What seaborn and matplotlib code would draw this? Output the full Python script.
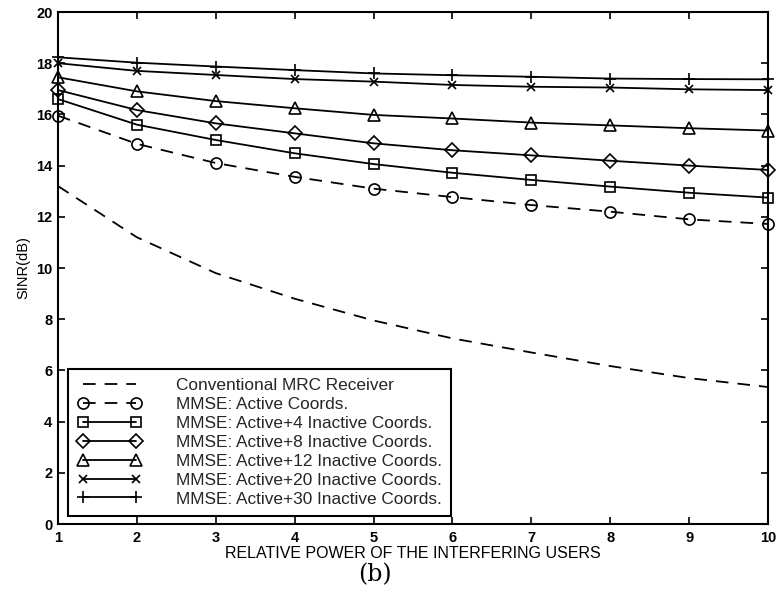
import matplotlib
matplotlib.use("Agg")
import matplotlib.pyplot as plt
import seaborn as sns
import pandas as pd
from matplotlib.lines import Line2D

x = [1, 2, 3, 4, 5, 6, 7, 8, 9, 10]
mrc = [13.2, 11.2, 9.8, 8.8, 7.95, 7.25, 6.7, 6.17, 5.7, 5.35]
active = [15.95, 14.85, 14.1, 13.56, 13.1, 12.77, 12.46, 12.2, 11.9, 11.72]
act4 = [16.6, 15.6, 15.0, 14.48, 14.06, 13.72, 13.44, 13.18, 12.94, 12.75]
act8 = [16.95, 16.17, 15.65, 15.26, 14.87, 14.6, 14.4, 14.19, 14.0, 13.83]
act12 = [17.45, 16.9, 16.52, 16.24, 15.98, 15.84, 15.68, 15.57, 15.46, 15.37]
act20 = [18.0, 17.7, 17.54, 17.38, 17.28, 17.15, 17.08, 17.05, 16.98, 16.95]
act30 = [18.23, 18.02, 17.87, 17.73, 17.6, 17.53, 17.47, 17.4, 17.38, 17.37]

labels = ["Conventional MRC Receiver", "MMSE: Active Coords.",
          "MMSE: Active+4 Inactive Coords.", "MMSE: Active+8 Inactive Coords.",
          "MMSE: Active+12 Inactive Coords.", "MMSE: Active+20 Inactive Coords.",
          "MMSE: Active+30 Inactive Coords."]
xticks = [1, 2, 3, 4, 5, 6, 7, 8, 9, 10]
yticks = [0, 2, 4, 6, 8, 10, 12, 14, 16, 18, 20]

series = [mrc, active, act4, act8, act12, act20, act30]
markers = [None, "o", "s", "D", "^", "x", "+"]
msizes = [0, 8, 6.5, 7, 8, 6, 8]
dashed = [True, True, False, False, False, False, False]

sns.set_theme(style="white")
plt.rcParams['font.family'] = ['Liberation Sans', 'DejaVu Sans']

fig = plt.figure(figsize=(7.76, 5.96), dpi=100)
ax = fig.add_axes([58/776, 1-524/596, 710/776, 512/596])

handles = []
for ys, lab, mk, ms, ds in zip(series, labels, markers, msizes, dashed):
    df = pd.DataFrame({"x": x, "y": ys})
    ls = (0, (7, 5)) if ds else "-"
    fc = "none" if mk not in ("x", "+") else "black"
    sns.lineplot(data=df, x="x", y="y", ax=ax, color="black", lw=1.3,
                 linestyle=ls, marker=mk, markersize=ms,
                 markerfacecolor=fc, markeredgecolor="black",
                 markeredgewidth=1.2, clip_on=False)
    handles.append(Line2D([0], [0], color="black", lw=1.3, linestyle=ls,
                          marker=mk, markersize=ms, markerfacecolor=fc,
                          markeredgecolor="black", markeredgewidth=1.2))

ax.set_xlim(1, 10)
ax.set_ylim(0, 20)
ax.set_xticks(xticks)
ax.set_yticks(yticks)
ax.set_xticklabels([str(t) for t in xticks], fontsize=10.5, fontweight="bold")
ax.set_yticklabels([str(t) for t in yticks], fontsize=10.5, fontweight="bold")
ax.tick_params(direction="in", length=5, width=1.2, top=True, right=True,
               bottom=True, left=True, colors="black")
ax.tick_params(axis="x", pad=5)
ax.tick_params(axis="y", pad=4)
for s in ax.spines.values():
    s.set_visible(True)
    s.set_color("black")
    s.set_linewidth(1.5)
ax.set_xlabel("RELATIVE POWER OF THE INTERFERING USERS", fontsize=11.5,
              labelpad=1, color="black")
ax.set_ylabel("SINR(dB)", fontsize=10.5, labelpad=4, color="black")

leg = ax.legend(handles, labels, loc="lower left", bbox_to_anchor=(10/710, 8/512),
                borderaxespad=0, fontsize=12.4, numpoints=2, handlelength=3.7,
                handletextpad=2.0, labelspacing=0.22, borderpad=0.55,
                frameon=True, fancybox=False, framealpha=1, edgecolor="black")
leg.get_frame().set_linewidth(1.5)

fig.text(375/776, 1-575/596, "(b)", fontsize=17, family="DejaVu Serif",
         ha="center", va="center", color="black")

fig.savefig("out.png", dpi=100, facecolor="white")
